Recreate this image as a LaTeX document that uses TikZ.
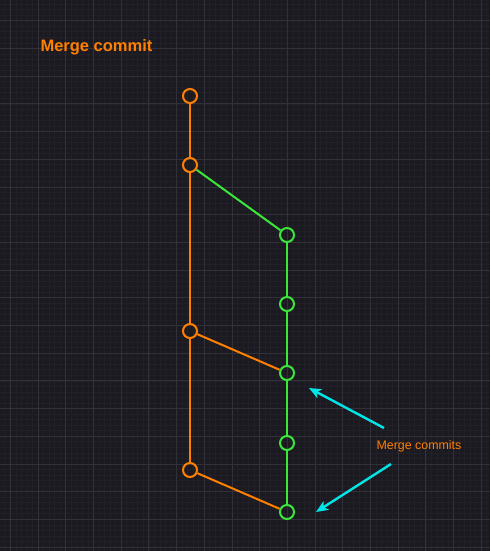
\documentclass[tikz,border=0pt]{standalone}
\usepackage{fontspec}
\setmainfont{Liberation Sans}
\usepackage{tikz}
\usetikzlibrary{arrows.meta}
\definecolor{gitbg}{RGB}{28,26,33}
\definecolor{gitminor}{RGB}{33,31,39}
\definecolor{gitmajor}{RGB}{50,48,56}
\definecolor{gitorange}{RGB}{255,128,0}
\definecolor{gitgreen}{RGB}{58,232,58}
\definecolor{gitcyan}{RGB}{0,230,230}

\begin{document}
\begin{tikzpicture}[x=1pt,y=-1pt,>={Stealth[length=12pt,width=10pt,inset=3pt]},
  commit/.style={circle,draw,line width=2pt,minimum size=14pt,inner sep=0pt},
  branch/.style={line width=2pt}]
\useasboundingbox (0,0) rectangle (490,551);
\fill[gitbg] (0,0) rectangle (490,551);
\begin{scope}
\clip (0,0) rectangle (490,551);
\foreach \k in {-1,...,87} \draw[gitminor,line width=0.6pt] ({10.3+\k*5.54},0) -- ++(0,551);
\foreach \k in {-3,...,96} \draw[gitminor,line width=0.6pt] (0,{20.7+\k*5.54}) -- ++(490,0);
\foreach \k in {0,...,17} \draw[gitmajor,line width=0.8pt] ({10.3+\k*27.7},0) -- ++(0,551);
\foreach \k in {0,...,19} \draw[gitmajor,line width=0.8pt] (0,{20.7+\k*27.7}) -- ++(490,0);
\end{scope}

\node[gitorange,font=\bfseries\fontsize{16.5}{18}\selectfont,anchor=west] (title) at (37,47.5) {Merge commit};

% main branch
\node[commit,gitorange] (m1) at (190,96) {};
\node[commit,gitorange] (m2) at (190,165) {};
\node[commit,gitorange] (m3) at (190,331) {};
\node[commit,gitorange] (m4) at (190,470) {};
% feature branch
\node[commit,gitgreen] (f1) at (287,235) {};
\node[commit,gitgreen] (f2) at (287,304) {};
\node[commit,gitgreen] (f3) at (287,373) {};
\node[commit,gitgreen] (f4) at (287,443) {};
\node[commit,gitgreen] (f5) at (287,512) {};

\draw[branch,gitorange] (m1) -- (m2) -- (m3) -- (m4);
\draw[branch,gitgreen] (f1) -- (f2) -- (f3) -- (f4) -- (f5);
\draw[branch,gitgreen] (m2) -- (f1);
\draw[branch,gitorange] (m3) -- (f3);
\draw[branch,gitorange] (m4) -- (f5);

\node[gitorange,font=\fontsize{12.4}{14}\selectfont] (lbl) at (419,446) {Merge commits};
\coordinate (a1) at (384,428);
\coordinate (a2) at (391,464);
\coordinate (t1) at (309,388);
\coordinate (t2) at (316,512);
\draw[->,gitcyan,line width=2.4pt] (a1) -- (t1);
\draw[->,gitcyan,line width=2.4pt] (a2) -- (t2);
\end{tikzpicture}
\end{document}
